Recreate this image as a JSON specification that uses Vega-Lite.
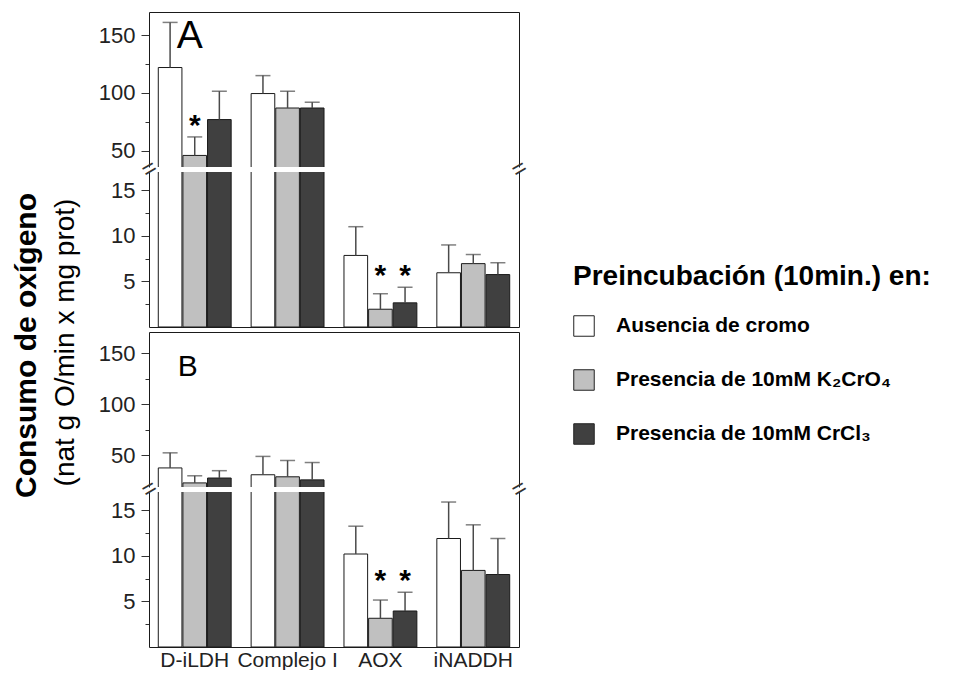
{
  "$schema": "https://vega.github.io/schema/vega-lite/v6.json",
  "background": "white",
  "padding": {"left": 11, "top": 12, "right": 0, "bottom": 0},
  "config": {
    "font": "Liberation Sans",
    "view": {"stroke": null},
    "axis": {"grid": false, "labelFont": "Liberation Sans", "titleFont": "Liberation Sans", "labelColor": "#222", "domainColor": "#1a1a1a", "tickColor": "#333", "domainWidth": 1, "labelFlush": false}
  },
  "datasets": {
    "bars": [
      {"panel": "A", "enzyme": "D-iLDH", "treatment": "Ausencia de cromo", "value": 122, "upper": 161, "sig": ""},
      {"panel": "A", "enzyme": "D-iLDH", "treatment": "Presencia de 10mM K₂CrO₄", "value": 46, "upper": 62, "sig": "*"},
      {"panel": "A", "enzyme": "D-iLDH", "treatment": "Presencia de 10mM CrCl₃", "value": 77, "upper": 101.5, "sig": ""},
      {"panel": "A", "enzyme": "Complejo I", "treatment": "Ausencia de cromo", "value": 99.5, "upper": 115, "sig": ""},
      {"panel": "A", "enzyme": "Complejo I", "treatment": "Presencia de 10mM K₂CrO₄", "value": 87, "upper": 101.5, "sig": ""},
      {"panel": "A", "enzyme": "Complejo I", "treatment": "Presencia de 10mM CrCl₃", "value": 87, "upper": 92, "sig": ""},
      {"panel": "A", "enzyme": "AOX", "treatment": "Ausencia de cromo", "value": 7.85, "upper": 11, "sig": ""},
      {"panel": "A", "enzyme": "AOX", "treatment": "Presencia de 10mM K₂CrO₄", "value": 1.95, "upper": 3.65, "sig": "*"},
      {"panel": "A", "enzyme": "AOX", "treatment": "Presencia de 10mM CrCl₃", "value": 2.65, "upper": 4.35, "sig": "*"},
      {"panel": "A", "enzyme": "iNADDH", "treatment": "Ausencia de cromo", "value": 5.95, "upper": 9, "sig": ""},
      {"panel": "A", "enzyme": "iNADDH", "treatment": "Presencia de 10mM K₂CrO₄", "value": 6.95, "upper": 7.95, "sig": ""},
      {"panel": "A", "enzyme": "iNADDH", "treatment": "Presencia de 10mM CrCl₃", "value": 5.75, "upper": 7.05, "sig": ""},
      {"panel": "B", "enzyme": "D-iLDH", "treatment": "Ausencia de cromo", "value": 37.7, "upper": 52.5, "sig": ""},
      {"panel": "B", "enzyme": "D-iLDH", "treatment": "Presencia de 10mM K₂CrO₄", "value": 23, "upper": 30, "sig": ""},
      {"panel": "B", "enzyme": "D-iLDH", "treatment": "Presencia de 10mM CrCl₃", "value": 27.8, "upper": 35, "sig": ""},
      {"panel": "B", "enzyme": "Complejo I", "treatment": "Ausencia de cromo", "value": 31, "upper": 49, "sig": ""},
      {"panel": "B", "enzyme": "Complejo I", "treatment": "Presencia de 10mM K₂CrO₄", "value": 29, "upper": 45, "sig": ""},
      {"panel": "B", "enzyme": "Complejo I", "treatment": "Presencia de 10mM CrCl₃", "value": 26, "upper": 43, "sig": ""},
      {"panel": "B", "enzyme": "AOX", "treatment": "Ausencia de cromo", "value": 10.2, "upper": 13.25, "sig": ""},
      {"panel": "B", "enzyme": "AOX", "treatment": "Presencia de 10mM K₂CrO₄", "value": 3.15, "upper": 5.15, "sig": "*"},
      {"panel": "B", "enzyme": "AOX", "treatment": "Presencia de 10mM CrCl₃", "value": 3.95, "upper": 6, "sig": "*"},
      {"panel": "B", "enzyme": "iNADDH", "treatment": "Ausencia de cromo", "value": 11.9, "upper": 15.9, "sig": ""},
      {"panel": "B", "enzyme": "iNADDH", "treatment": "Presencia de 10mM K₂CrO₄", "value": 8.4, "upper": 13.4, "sig": ""},
      {"panel": "B", "enzyme": "iNADDH", "treatment": "Presencia de 10mM CrCl₃", "value": 7.95, "upper": 11.9, "sig": ""}
    ]
  },
  "bounds": "flush",
  "spacing": 5,
  "vconcat": [
    {
      "width": 370, "height": 155,
      "data": {"name": "bars"},
      "transform": [{"filter": "datum.panel == 'A'"}],
      "resolve": {"axis": {"y": "independent"}},
      "layer": [
        {
          "mark": {"type": "bar", "stroke": "#1a1a1a", "strokeWidth": 1, "clip": true},
          "encoding": {
            "x": {"field": "enzyme", "type": "nominal", "scale": {"domain": ["D-iLDH", "Complejo I", "AOX", "iNADDH"], "paddingInner": 0.215, "paddingOuter": 0.1}, "axis": {"orient": "top", "title": null, "labels": false, "ticks": false}},
            "xOffset": {"field": "treatment", "type": "nominal", "scale": {"domain": ["Ausencia de cromo", "Presencia de 10mM K₂CrO₄", "Presencia de 10mM CrCl₃"], "paddingInner": 0.04}},
            "y": {"field": "value", "type": "quantitative", "scale": {"domain": [36, 170], "zero": false, "nice": false},
                  "axis": {"orient": "left", "title": null, "values": [50, 75, 100, 125, 150], "labelExpr": "datum.value % 50 == 0 ? datum.label : ''", "tickSize": {"condition": {"test": "datum.value % 50 == 0", "value": 8}, "value": 4}, "labelFontSize": 22, "labelPadding": 6}},
            "color": {"field": "treatment", "type": "nominal", "scale": {"domain": ["Ausencia de cromo", "Presencia de 10mM K₂CrO₄", "Presencia de 10mM CrCl₃"], "range": ["#ffffff", "#c0c0c0", "#404040"]},
                      "legend": {"orient": "none", "legendX": 424, "legendY": 251, "title": "Preincubación (10min.) en:", "titleFontSize": 28, "titleFontWeight": "bold", "titleColor": "#000", "titleLimit": 600, "titlePadding": 24, "labelFontSize": 21, "labelFontWeight": "bold", "labelColor": "#000", "labelLimit": 500, "labelOffset": 21, "symbolType": "square", "symbolSize": 420, "symbolStrokeColor": "#222", "symbolStrokeWidth": 1, "rowPadding": 28}}
          }
        },
        {
          "mark": {"type": "rule", "color": "#4a4a4a", "strokeWidth": 1.5, "clip": true},
          "encoding": {
            "x": {"field": "enzyme", "type": "nominal", "scale": {"domain": ["D-iLDH", "Complejo I", "AOX", "iNADDH"], "paddingInner": 0.215, "paddingOuter": 0.1}, "axis": {"orient": "top", "title": null, "labels": false, "ticks": false}},
            "xOffset": {"field": "treatment", "type": "nominal", "scale": {"domain": ["Ausencia de cromo", "Presencia de 10mM K₂CrO₄", "Presencia de 10mM CrCl₃"], "paddingInner": 0.04}},
            "y": {"field": "value", "type": "quantitative", "scale": {"domain": [36, 170], "zero": false, "nice": false}, "axis": {"orient": "right", "title": null, "labels": false, "ticks": false}},
            "y2": {"field": "upper"}
          }
        },
        {
          "mark": {"type": "tick", "color": "#4a4a4a", "thickness": 1.5, "size": 15, "clip": true},
          "encoding": {
            "x": {"field": "enzyme", "type": "nominal", "scale": {"domain": ["D-iLDH", "Complejo I", "AOX", "iNADDH"], "paddingInner": 0.215, "paddingOuter": 0.1}, "axis": {"orient": "top", "title": null, "labels": false, "ticks": false}},
            "xOffset": {"field": "treatment", "type": "nominal", "scale": {"domain": ["Ausencia de cromo", "Presencia de 10mM K₂CrO₄", "Presencia de 10mM CrCl₃"], "paddingInner": 0.04}},
            "y": {"field": "upper", "type": "quantitative", "scale": {"domain": [36, 170], "zero": false, "nice": false}, "axis": null}
          }
        },
        {
          "transform": [{"filter": "datum.sig == '*'"}, {"joinaggregate": [{"op": "max", "field": "upper", "as": "starY"}], "groupby": ["enzyme"]}, {"filter": "datum.starY >= 36"}],
          "mark": {"type": "text", "fontSize": 30, "fontWeight": "bold", "baseline": "alphabetic", "color": "#000", "clip": true, "dy": -2},
          "encoding": {
            "x": {"field": "enzyme", "type": "nominal", "scale": {"domain": ["D-iLDH", "Complejo I", "AOX", "iNADDH"], "paddingInner": 0.215, "paddingOuter": 0.1}, "axis": {"orient": "top", "title": null, "labels": false, "ticks": false}},
            "xOffset": {"field": "treatment", "type": "nominal", "scale": {"domain": ["Ausencia de cromo", "Presencia de 10mM K₂CrO₄", "Presencia de 10mM CrCl₃"], "paddingInner": 0.04}},
            "y": {"field": "starY", "type": "quantitative", "scale": {"domain": [36, 170], "zero": false, "nice": false}, "axis": null},
            "text": {"field": "sig"}
          }
        },
        {
          "data": {"values": [{"tag": "A", "panel": "A"}]},
          "mark": {"type": "text", "fontSize": 39, "dx": -5, "baseline": "alphabetic", "color": "#000"},
          "encoding": {
            "x": {"datum": "D-iLDH", "type": "nominal", "scale": {"domain": ["D-iLDH", "Complejo I", "AOX", "iNADDH"], "paddingInner": 0.215, "paddingOuter": 0.1}, "axis": {"orient": "top", "title": null, "labels": false, "ticks": false}},
            "y": {"datum": 139, "type": "quantitative", "scale": {"domain": [36, 170], "zero": false, "nice": false}, "axis": null},
            "text": {"field": "tag"}
          }
        }
      ]
    },
    {
      "width": 370, "height": 155,
      "data": {"name": "bars"},
      "transform": [{"filter": "datum.panel == 'A'"}],
      "resolve": {"axis": {"y": "independent"}},
      "layer": [
        {
          "mark": {"type": "bar", "stroke": "#1a1a1a", "strokeWidth": 1, "clip": true},
          "encoding": {
            "x": {"field": "enzyme", "type": "nominal", "scale": {"domain": ["D-iLDH", "Complejo I", "AOX", "iNADDH"], "paddingInner": 0.215, "paddingOuter": 0.1}, "axis": {"orient": "bottom", "title": null, "labels": false, "ticks": false}},
            "xOffset": {"field": "treatment", "type": "nominal", "scale": {"domain": ["Ausencia de cromo", "Presencia de 10mM K₂CrO₄", "Presencia de 10mM CrCl₃"], "paddingInner": 0.04}},
            "y": {"field": "value", "type": "quantitative", "scale": {"domain": [0, 17], "zero": false, "nice": false},
                  "axis": {"orient": "left", "values": [2.5, 5, 7.5, 10, 12.5, 15], "labelExpr": "datum.value % 5 == 0 ? datum.label : ''", "tickSize": {"condition": {"test": "datum.value % 5 == 0", "value": 8}, "value": 4}, "labelFontSize": 22, "labelPadding": 6,
                           "title": "Consumo de oxígeno", "titleFontSize": 30, "titleFontWeight": "bold", "titleColor": "#000", "titleAngle": 270, "titleAlign": "center", "titleBaseline": "alphabetic", "titleX": -114, "titleY": 173}},
            "color": {"field": "treatment", "type": "nominal", "scale": {"domain": ["Ausencia de cromo", "Presencia de 10mM K₂CrO₄", "Presencia de 10mM CrCl₃"], "range": ["#ffffff", "#c0c0c0", "#404040"]},
                      "legend": {"orient": "none", "legendX": 424, "legendY": 251, "title": "Preincubación (10min.) en:", "titleFontSize": 28, "titleFontWeight": "bold", "titleColor": "#000", "titleLimit": 600, "titlePadding": 24, "labelFontSize": 21, "labelFontWeight": "bold", "labelColor": "#000", "labelLimit": 500, "labelOffset": 21, "symbolType": "square", "symbolSize": 420, "symbolStrokeColor": "#222", "symbolStrokeWidth": 1, "rowPadding": 28}}
          }
        },
        {
          "mark": {"type": "rule", "color": "#4a4a4a", "strokeWidth": 1.5, "clip": true},
          "encoding": {
            "x": {"field": "enzyme", "type": "nominal", "scale": {"domain": ["D-iLDH", "Complejo I", "AOX", "iNADDH"], "paddingInner": 0.215, "paddingOuter": 0.1}, "axis": {"orient": "bottom", "title": null, "labels": false, "ticks": false}},
            "xOffset": {"field": "treatment", "type": "nominal", "scale": {"domain": ["Ausencia de cromo", "Presencia de 10mM K₂CrO₄", "Presencia de 10mM CrCl₃"], "paddingInner": 0.04}},
            "y": {"field": "value", "type": "quantitative", "scale": {"domain": [0, 17], "zero": false, "nice": false},
                  "axis": {"orient": "right", "title": null, "ticks": false, "tickSize": 0, "values": [17], "labelExpr": "'='", "labelFontSize": 24, "labelAngle": -30, "labelAlign": "center", "labelBaseline": "middle", "labelPadding": 0, "labelOffset": -3, "labelColor": "#333"}},
            "y2": {"field": "upper"}
          }
        },
        {
          "mark": {"type": "tick", "color": "#4a4a4a", "thickness": 1.5, "size": 15, "clip": true},
          "encoding": {
            "x": {"field": "enzyme", "type": "nominal", "scale": {"domain": ["D-iLDH", "Complejo I", "AOX", "iNADDH"], "paddingInner": 0.215, "paddingOuter": 0.1}, "axis": {"orient": "bottom", "title": null, "labels": false, "ticks": false}},
            "xOffset": {"field": "treatment", "type": "nominal", "scale": {"domain": ["Ausencia de cromo", "Presencia de 10mM K₂CrO₄", "Presencia de 10mM CrCl₃"], "paddingInner": 0.04}},
            "y": {"field": "upper", "type": "quantitative", "scale": {"domain": [0, 17], "zero": false, "nice": false},
                  "axis": {"orient": "left", "domain": false, "ticks": false, "tickSize": 0, "values": [17], "labelExpr": "'='", "labelFontSize": 24, "labelAngle": -30, "labelAlign": "center", "labelBaseline": "middle", "labelPadding": 0, "labelOffset": -3, "labelColor": "#333",
                           "title": "(nat g O/min x mg prot)", "titleFontSize": 28, "titleFontWeight": "normal", "titleColor": "#000", "titleAngle": 270, "titleAlign": "center", "titleBaseline": "alphabetic", "titleX": -76, "titleY": 170}}
          }
        },
        {
          "transform": [{"filter": "datum.sig == '*'"}, {"joinaggregate": [{"op": "max", "field": "upper", "as": "starY"}], "groupby": ["enzyme"]}, {"filter": "datum.starY <= 17"}],
          "mark": {"type": "text", "fontSize": 30, "fontWeight": "bold", "baseline": "alphabetic", "color": "#000", "clip": true, "dy": -2},
          "encoding": {
            "x": {"field": "enzyme", "type": "nominal", "scale": {"domain": ["D-iLDH", "Complejo I", "AOX", "iNADDH"], "paddingInner": 0.215, "paddingOuter": 0.1}, "axis": {"orient": "bottom", "title": null, "labels": false, "ticks": false}},
            "xOffset": {"field": "treatment", "type": "nominal", "scale": {"domain": ["Ausencia de cromo", "Presencia de 10mM K₂CrO₄", "Presencia de 10mM CrCl₃"], "paddingInner": 0.04}},
            "y": {"field": "starY", "type": "quantitative", "scale": {"domain": [0, 17], "zero": false, "nice": false}, "axis": null},
            "text": {"field": "sig"}
          }
        }
      ]
    },
    {
      "width": 370, "height": 155,
      "data": {"name": "bars"},
      "transform": [{"filter": "datum.panel == 'B'"}],
      "resolve": {"axis": {"y": "independent"}},
      "layer": [
        {
          "mark": {"type": "bar", "stroke": "#1a1a1a", "strokeWidth": 1, "clip": true},
          "encoding": {
            "x": {"field": "enzyme", "type": "nominal", "scale": {"domain": ["D-iLDH", "Complejo I", "AOX", "iNADDH"], "paddingInner": 0.215, "paddingOuter": 0.1}, "axis": {"orient": "top", "title": null, "labels": false, "ticks": false}},
            "xOffset": {"field": "treatment", "type": "nominal", "scale": {"domain": ["Ausencia de cromo", "Presencia de 10mM K₂CrO₄", "Presencia de 10mM CrCl₃"], "paddingInner": 0.04}},
            "y": {"field": "value", "type": "quantitative", "scale": {"domain": [19, 171], "zero": false, "nice": false},
                  "axis": {"orient": "left", "title": null, "values": [50, 75, 100, 125, 150], "labelExpr": "datum.value % 50 == 0 ? datum.label : ''", "tickSize": {"condition": {"test": "datum.value % 50 == 0", "value": 8}, "value": 4}, "labelFontSize": 22, "labelPadding": 6}},
            "color": {"field": "treatment", "type": "nominal", "scale": {"domain": ["Ausencia de cromo", "Presencia de 10mM K₂CrO₄", "Presencia de 10mM CrCl₃"], "range": ["#ffffff", "#c0c0c0", "#404040"]},
                      "legend": {"orient": "none", "legendX": 424, "legendY": 251, "title": "Preincubación (10min.) en:", "titleFontSize": 28, "titleFontWeight": "bold", "titleColor": "#000", "titleLimit": 600, "titlePadding": 24, "labelFontSize": 21, "labelFontWeight": "bold", "labelColor": "#000", "labelLimit": 500, "labelOffset": 21, "symbolType": "square", "symbolSize": 420, "symbolStrokeColor": "#222", "symbolStrokeWidth": 1, "rowPadding": 28}}
          }
        },
        {
          "mark": {"type": "rule", "color": "#4a4a4a", "strokeWidth": 1.5, "clip": true},
          "encoding": {
            "x": {"field": "enzyme", "type": "nominal", "scale": {"domain": ["D-iLDH", "Complejo I", "AOX", "iNADDH"], "paddingInner": 0.215, "paddingOuter": 0.1}, "axis": {"orient": "top", "title": null, "labels": false, "ticks": false}},
            "xOffset": {"field": "treatment", "type": "nominal", "scale": {"domain": ["Ausencia de cromo", "Presencia de 10mM K₂CrO₄", "Presencia de 10mM CrCl₃"], "paddingInner": 0.04}},
            "y": {"field": "value", "type": "quantitative", "scale": {"domain": [19, 171], "zero": false, "nice": false}, "axis": {"orient": "right", "title": null, "labels": false, "ticks": false}},
            "y2": {"field": "upper"}
          }
        },
        {
          "mark": {"type": "tick", "color": "#4a4a4a", "thickness": 1.5, "size": 15, "clip": true},
          "encoding": {
            "x": {"field": "enzyme", "type": "nominal", "scale": {"domain": ["D-iLDH", "Complejo I", "AOX", "iNADDH"], "paddingInner": 0.215, "paddingOuter": 0.1}, "axis": {"orient": "top", "title": null, "labels": false, "ticks": false}},
            "xOffset": {"field": "treatment", "type": "nominal", "scale": {"domain": ["Ausencia de cromo", "Presencia de 10mM K₂CrO₄", "Presencia de 10mM CrCl₃"], "paddingInner": 0.04}},
            "y": {"field": "upper", "type": "quantitative", "scale": {"domain": [19, 171], "zero": false, "nice": false}, "axis": null}
          }
        },
        {
          "data": {"values": [{"tag": "B", "panel": "B"}]},
          "mark": {"type": "text", "fontSize": 30, "dx": -7, "baseline": "alphabetic", "color": "#000"},
          "encoding": {
            "x": {"datum": "D-iLDH", "type": "nominal", "scale": {"domain": ["D-iLDH", "Complejo I", "AOX", "iNADDH"], "paddingInner": 0.215, "paddingOuter": 0.1}, "axis": {"orient": "top", "title": null, "labels": false, "ticks": false}},
            "y": {"datum": 127.5, "type": "quantitative", "scale": {"domain": [19, 171], "zero": false, "nice": false}, "axis": null},
            "text": {"field": "tag"}
          }
        }
      ]
    },
    {
      "width": 370, "height": 155,
      "data": {"name": "bars"},
      "transform": [{"filter": "datum.panel == 'B'"}],
      "resolve": {"axis": {"y": "independent"}},
      "layer": [
        {
          "mark": {"type": "bar", "stroke": "#1a1a1a", "strokeWidth": 1, "clip": true},
          "encoding": {
            "x": {"field": "enzyme", "type": "nominal", "scale": {"domain": ["D-iLDH", "Complejo I", "AOX", "iNADDH"], "paddingInner": 0.215, "paddingOuter": 0.1}, "axis": {"orient": "bottom", "title": null, "ticks": false, "labelFontSize": 21, "labelPadding": 2, "labelAngle": 0, "labelColor": "#222"}},
            "xOffset": {"field": "treatment", "type": "nominal", "scale": {"domain": ["Ausencia de cromo", "Presencia de 10mM K₂CrO₄", "Presencia de 10mM CrCl₃"], "paddingInner": 0.04}},
            "y": {"field": "value", "type": "quantitative", "scale": {"domain": [0, 17], "zero": false, "nice": false},
                  "axis": {"orient": "left", "title": null, "values": [2.5, 5, 7.5, 10, 12.5, 15], "labelExpr": "datum.value % 5 == 0 ? datum.label : ''", "tickSize": {"condition": {"test": "datum.value % 5 == 0", "value": 8}, "value": 4}, "labelFontSize": 22, "labelPadding": 6}},
            "color": {"field": "treatment", "type": "nominal", "scale": {"domain": ["Ausencia de cromo", "Presencia de 10mM K₂CrO₄", "Presencia de 10mM CrCl₃"], "range": ["#ffffff", "#c0c0c0", "#404040"]},
                      "legend": {"orient": "none", "legendX": 424, "legendY": 251, "title": "Preincubación (10min.) en:", "titleFontSize": 28, "titleFontWeight": "bold", "titleColor": "#000", "titleLimit": 600, "titlePadding": 24, "labelFontSize": 21, "labelFontWeight": "bold", "labelColor": "#000", "labelLimit": 500, "labelOffset": 21, "symbolType": "square", "symbolSize": 420, "symbolStrokeColor": "#222", "symbolStrokeWidth": 1, "rowPadding": 28}}
          }
        },
        {
          "mark": {"type": "rule", "color": "#4a4a4a", "strokeWidth": 1.5, "clip": true},
          "encoding": {
            "x": {"field": "enzyme", "type": "nominal", "scale": {"domain": ["D-iLDH", "Complejo I", "AOX", "iNADDH"], "paddingInner": 0.215, "paddingOuter": 0.1}, "axis": {"orient": "bottom", "title": null, "ticks": false, "labelFontSize": 21, "labelPadding": 2, "labelAngle": 0, "labelColor": "#222"}},
            "xOffset": {"field": "treatment", "type": "nominal", "scale": {"domain": ["Ausencia de cromo", "Presencia de 10mM K₂CrO₄", "Presencia de 10mM CrCl₃"], "paddingInner": 0.04}},
            "y": {"field": "value", "type": "quantitative", "scale": {"domain": [0, 17], "zero": false, "nice": false},
                  "axis": {"orient": "right", "title": null, "ticks": false, "tickSize": 0, "values": [17], "labelExpr": "'='", "labelFontSize": 24, "labelAngle": -30, "labelAlign": "center", "labelBaseline": "middle", "labelPadding": 0, "labelOffset": -3, "labelColor": "#333"}},
            "y2": {"field": "upper"}
          }
        },
        {
          "mark": {"type": "tick", "color": "#4a4a4a", "thickness": 1.5, "size": 15, "clip": true},
          "encoding": {
            "x": {"field": "enzyme", "type": "nominal", "scale": {"domain": ["D-iLDH", "Complejo I", "AOX", "iNADDH"], "paddingInner": 0.215, "paddingOuter": 0.1}, "axis": {"orient": "bottom", "title": null, "ticks": false, "labelFontSize": 21, "labelPadding": 2, "labelAngle": 0, "labelColor": "#222"}},
            "xOffset": {"field": "treatment", "type": "nominal", "scale": {"domain": ["Ausencia de cromo", "Presencia de 10mM K₂CrO₄", "Presencia de 10mM CrCl₃"], "paddingInner": 0.04}},
            "y": {"field": "upper", "type": "quantitative", "scale": {"domain": [0, 17], "zero": false, "nice": false},
                  "axis": {"orient": "left", "title": null, "domain": false, "ticks": false, "tickSize": 0, "values": [17], "labelExpr": "'='", "labelFontSize": 24, "labelAngle": -30, "labelAlign": "center", "labelBaseline": "middle", "labelPadding": 0, "labelOffset": -3, "labelColor": "#333"}}
          }
        },
        {
          "transform": [{"filter": "datum.sig == '*'"}, {"joinaggregate": [{"op": "max", "field": "upper", "as": "starY"}], "groupby": ["enzyme"]}, {"filter": "datum.starY <= 17"}],
          "mark": {"type": "text", "fontSize": 30, "fontWeight": "bold", "baseline": "alphabetic", "color": "#000", "clip": true, "dy": -2},
          "encoding": {
            "x": {"field": "enzyme", "type": "nominal", "scale": {"domain": ["D-iLDH", "Complejo I", "AOX", "iNADDH"], "paddingInner": 0.215, "paddingOuter": 0.1}, "axis": {"orient": "bottom", "title": null, "ticks": false, "labelFontSize": 21, "labelPadding": 2, "labelAngle": 0, "labelColor": "#222"}},
            "xOffset": {"field": "treatment", "type": "nominal", "scale": {"domain": ["Ausencia de cromo", "Presencia de 10mM K₂CrO₄", "Presencia de 10mM CrCl₃"], "paddingInner": 0.04}},
            "y": {"field": "starY", "type": "quantitative", "scale": {"domain": [0, 17], "zero": false, "nice": false}, "axis": null},
            "text": {"field": "sig"}
          }
        }
      ]
    }
  ]
}
